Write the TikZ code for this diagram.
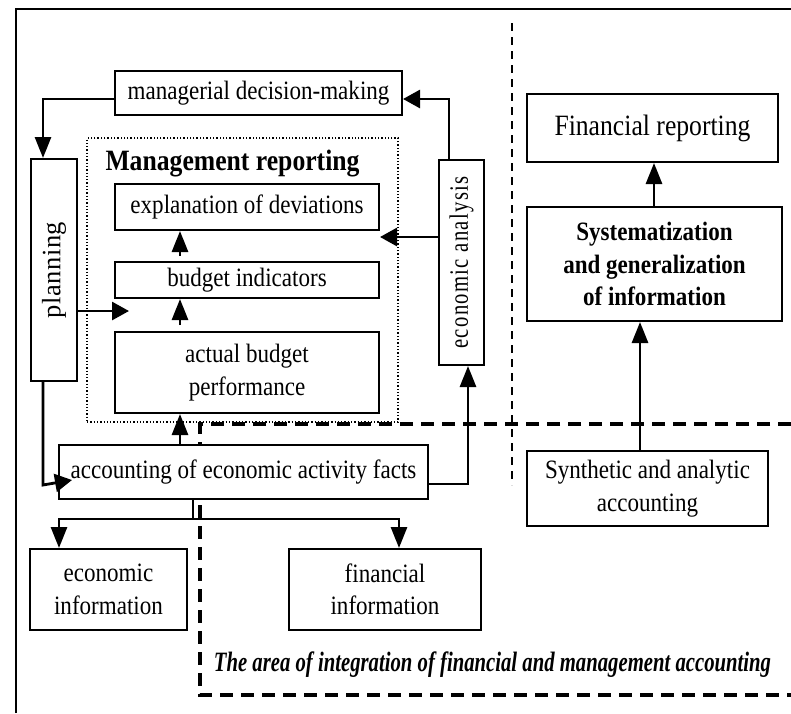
\documentclass[tikz,border=0pt]{standalone}
\usepackage{fontspec}
\setmainfont{Liberation Serif}[FakeStretch=0.87]
\newfontfamily\rotfont{Liberation Serif}[LetterSpace=2]
\newfontfamily\econfont{Liberation Serif}[FakeStretch=0.78,LetterSpace=5]
\newfontfamily\condfont{Liberation Serif}[FakeStretch=0.74]
\usetikzlibrary{arrows.meta,calc}
\begin{document}
\begin{tikzpicture}[x=1pt,y=-1pt,
  box/.style={draw, line width=2pt, fill=white, inner sep=0pt, align=center,
    font=\fontsize{26.5}{32.5}\selectfont},
  varr/.style={line width=2.8pt, -{Triangle[length=21pt,width=16pt]}},
  harr/.style={line width=2.8pt, -{Triangle[length=17pt,width=18pt]}},
  conn/.style={line width=2.8pt},
  thindash/.style={line width=1.4pt, dash pattern=on 8pt off 6pt},
  thickdash/.style={line width=3.6pt, dash pattern=on 13pt off 8pt},
  frameline/.style={line width=1.6pt}]
\useasboundingbox (0,0) rectangle (791,713);

% frame and region boundaries
\coordinate (fBL) at (16,713);
\coordinate (fTL) at (16,9);
\coordinate (fTR) at (791,9);
\draw[frameline] (fBL) -- (fTL) -- (fTR);

\coordinate (vT) at (512,23);
\coordinate (vB) at (512,485);
\draw[thindash] (vT) -- (vB);

\coordinate (dTR) at (791,424);
\coordinate (dTL) at (200,424);
\coordinate (dBL) at (200,695);
\coordinate (dBR) at (791,695);
\draw[thickdash] (dTR) -- (dTL) -- (dBL) -- (dBR);

% management reporting area
\node[draw, dotted, line width=1.3pt, minimum width=311, minimum height=284, inner sep=0pt] (mr) at (242.5,280) {};
\node[font=\bfseries\fontsize{29.5}{33}\selectfont, inner sep=0pt] (mrt) at (232.5,164) {Management reporting};

% boxes
\node[box, minimum width=287, minimum height=44] (mdm) at (258.5,93) {managerial decision-making};
\node[box, minimum width=46, minimum height=222] (plan) at (54,270) {\rotatebox{90}{\rotfont planning}};
\node[box, minimum width=264, minimum height=46] (expl) at (247,207) {explanation of deviations};
\node[box, minimum width=264, minimum height=36] (budget) at (247,280) {budget indicators};
\node[box, minimum width=264, minimum height=81] (actual) at (247,372.5) {actual budget\\performance};
\node[box, minimum width=369, minimum height=54] (acc) at (243.5,472) {accounting of economic activity facts};
\node[box, minimum width=45, minimum height=205] (econ) at (461.5,262.5) {\rotatebox{90}{\econfont economic analysis}};
\node[box, minimum width=157, minimum height=81] (econinfo) at (108.5,589.5) {economic\\information};
\node[box, minimum width=192, minimum height=81] (fininfo) at (385,589.5) {financial\\information};
\node[box, minimum width=251, minimum height=68, font=\fontsize{29.5}{33}\selectfont] (finrep) at (652.5,128) {Financial reporting};
\node[box, minimum width=255, minimum height=114, font=\bfseries\fontsize{26.5}{32.5}\selectfont] (syst) at (654.5,264) {Systematization\\and generalization\\of information};
\node[box, minimum width=241, minimum height=75] (synth) at (647.5,488.5) {Synthetic and analytic\\accounting};

\node[font=\condfont\bfseries\itshape\fontsize{28}{30}\selectfont, inner sep=0pt] (area) at (492.5,665) {The area of integration of financial and management accounting};

% connectors
\draw[varr] ([yshift=-6pt]mdm.west) -| ([xshift=-11pt]plan.north);
\coordinate (plTip) at (129,311);
\draw[harr] (plan.east |- plTip) -- (plTip);
\draw[varr] ([xshift=-67pt,yshift=6pt]actual.north) -- ([xshift=-67pt]budget.south);
\draw[varr] ([xshift=-67pt,yshift=5pt]budget.north) -- ([xshift=-67pt]expl.south);
\draw[varr] ([xshift=-63.5pt]acc.north) -- ([xshift=-67pt]actual.south);
\coordinate (plBend) at (43,485);
\coordinate (accIn) at (72,480);
\draw[harr] ([xshift=-11pt]plan.south) -- (plBend) -- (accIn);
\draw[varr] ([yshift=-12pt]acc.east) -| ([xshift=6.5pt]econ.south);
\draw[harr] ([xshift=-12.5pt]econ.north) |- ([yshift=-6pt]mdm.east);
\coordinate (eaTip) at (380,237);
\draw[harr] (econ.west |- eaTip) -- (eaTip);
\coordinate (brY) at (193,519);
\draw[conn] ([xshift=-50.5pt]acc.south) -- (brY);
\draw[varr] (brY) -| ([xshift=-49.5pt]econinfo.north);
\draw[varr] (brY) -| ([xshift=14pt]fininfo.north);
\draw[varr] ([xshift=-0.5pt]syst.north) -- ([xshift=1.5pt]finrep.south);
\draw[varr] ([xshift=-7.5pt]synth.north) -- ([xshift=-14.5pt]syst.south);
\end{tikzpicture}
\end{document}
